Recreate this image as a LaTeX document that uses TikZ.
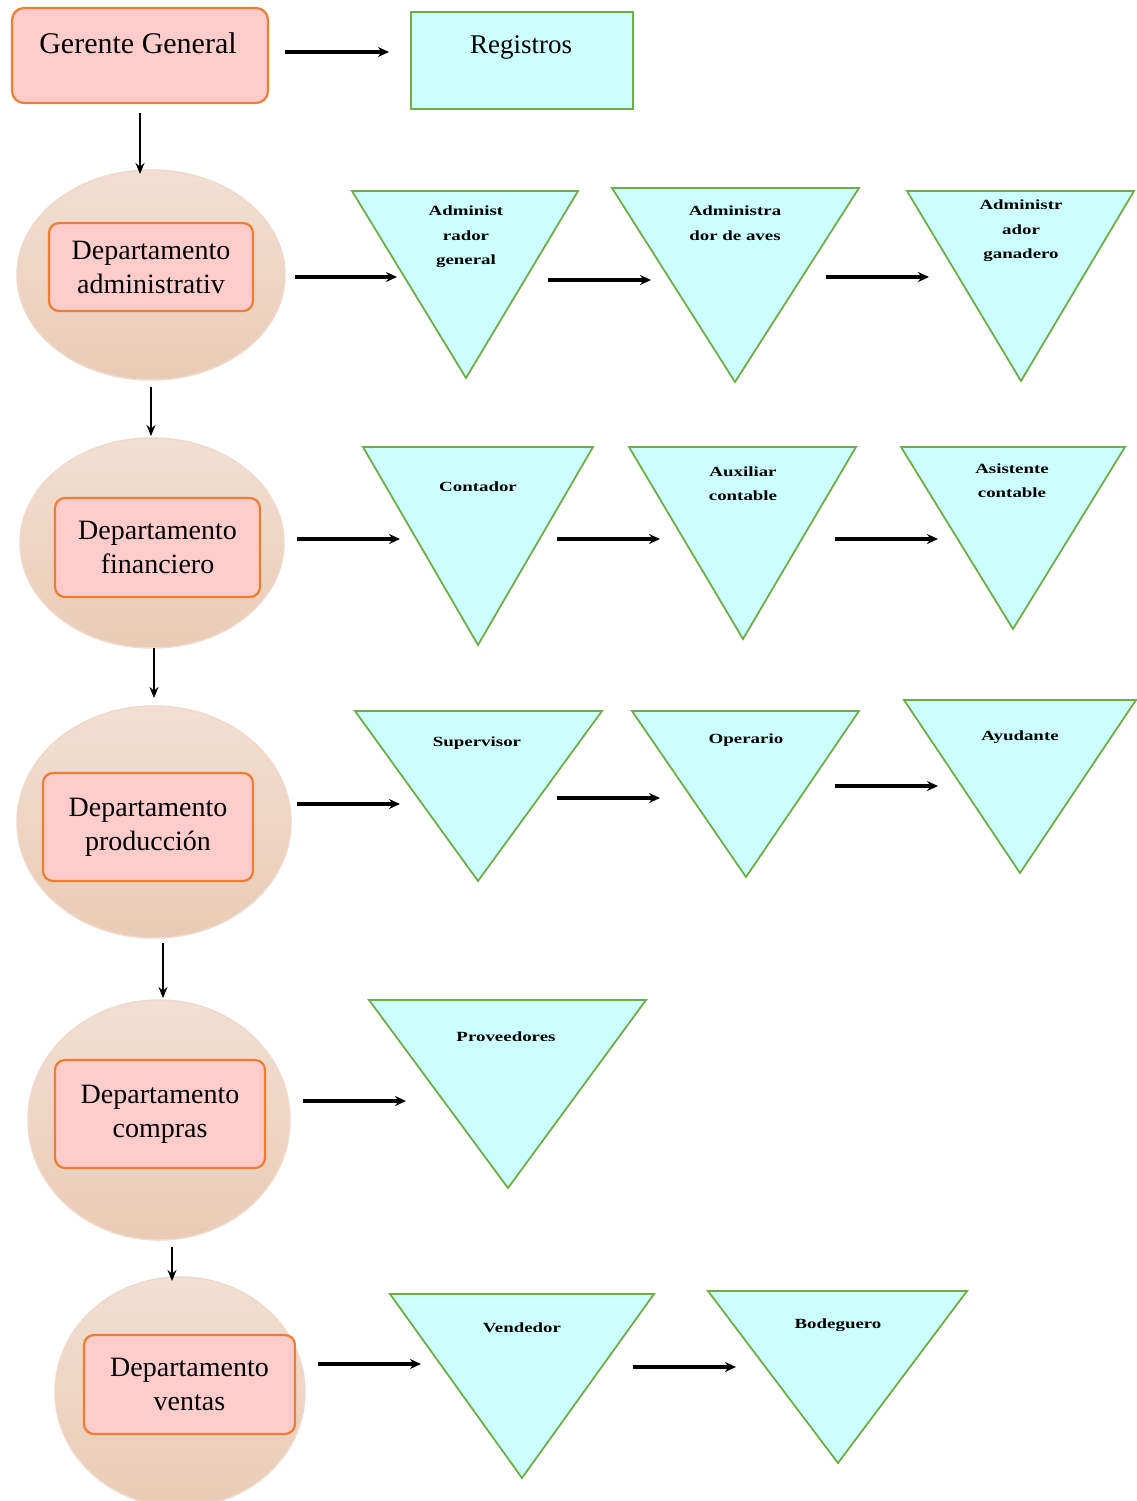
\documentclass[tikz,border=0pt]{standalone}
\usepackage{fontspec}
\setmainfont{Liberation Serif}
\usetikzlibrary{arrows.meta,shapes.geometric}
\definecolor{pinkfill}{HTML}{FFCCCC}
\definecolor{orangeline}{HTML}{ED7D31}
\definecolor{cyanfill}{HTML}{CCFFFF}
\definecolor{greenline}{HTML}{70AD47}
\definecolor{peachtop}{HTML}{F2DFD3}
\definecolor{peachbot}{HTML}{EACBB5}
\definecolor{peachline}{HTML}{EFD9CB}
\tikzset{
  gerbox/.style={draw=orangeline,line width=2.2pt,fill=pinkfill,rounded corners=12pt,inner sep=0pt},
  depbox/.style={draw=orangeline,line width=2.2pt,fill=pinkfill,rounded corners=10pt,inner sep=0pt},
  regbox/.style={draw=greenline,line width=2.2pt,fill=cyanfill,inner sep=0pt},
  deporb/.style={ellipse,draw=peachline,line width=1.5pt,top color=peachtop,bottom color=peachbot,inner sep=0pt},
  tri/.style={draw=greenline,line width=1.8pt,fill=cyanfill,line join=miter},
  bigtxt/.style={font=\fontsize{28}{34}\selectfont,align=center,inner sep=0pt},
  smalltxt/.style={font=\fontsize{14}{24.5}\selectfont\bfseries,align=center,inner sep=0pt,xscale=1.35},
  arr/.style={-{Stealth[length=11pt,width=10pt]},line width=3.2pt,black},
  varr/.style={-{Stealth[length=11pt,width=9pt]},line width=2.6pt,black}
}
\begin{document}
\begin{tikzpicture}[x=1pt,y=-1pt]
\useasboundingbox (0,0) rectangle (1137,1501);
% top row
\node[gerbox,minimum width=256pt,minimum height=95pt] (ger) at (140,55.5) {};
\node[bigtxt,font=\fontsize{30}{34}\selectfont] (gert) at (138,43) {Gerente General};
\node[regbox,minimum width=222pt,minimum height=97pt] (reg) at (522,60.5) {};
\node[bigtxt,font=\fontsize{27}{34}\selectfont] (regt) at (521,47) {Registros};
\coordinate (gerR) at (285,52); \coordinate (regL) at (389,52);
\draw[arr] (gerR) -- (regL);
% departments
\node[deporb,minimum width=268pt,minimum height=210pt] (e1) at (151,275) {};
\node[depbox,minimum width=204pt,minimum height=88pt] (d1) at (151,267) {};
\node[bigtxt] at (d1) {Departamento\\administrativ};
\node[deporb,minimum width=264pt,minimum height=210pt] (e2) at (152,543) {};
\node[depbox,minimum width=205pt,minimum height=99pt] (d2) at (157.5,547.5) {};
\node[bigtxt] at (d2) {Departamento\\financiero};
\node[deporb,minimum width=274pt,minimum height=232pt] (e3) at (154,822) {};
\node[depbox,minimum width=210pt,minimum height=108pt] (d3) at (148,827) {};
\node[bigtxt] at (d3) {Departamento\\producción};
\node[deporb,minimum width=262pt,minimum height=240pt] (e4) at (159,1120) {};
\node[depbox,minimum width=210pt,minimum height=108pt] (d4) at (160,1114) {};
\node[bigtxt] at (d4) {Departamento\\compras};
\node[deporb,minimum width=250pt,minimum height=230pt] (e5) at (180,1392) {};
\node[depbox,minimum width=211pt,minimum height=99pt] (d5) at (189.5,1384.5) {};
\node[bigtxt] at (d5) {Departamento\\ventas};
% vertical arrows
\coordinate (v0a) at (140,113); \coordinate (v0b) at (140,174);
\coordinate (v1a) at (151,387); \coordinate (v1b) at (151,436);
\coordinate (v2a) at (154,648); \coordinate (v2b) at (154,698);
\coordinate (v3a) at (163,943); \coordinate (v3b) at (163,998);
\coordinate (v4a) at (172,1247); \coordinate (v4b) at (172,1281);
\draw[varr] (v0a) -- (v0b);
\draw[varr] (v1a) -- (v1b);
\draw[varr] (v2a) -- (v2b);
\draw[varr] (v3a) -- (v3b);
\draw[varr] (v4a) -- (v4b);
% row 1 triangles
\draw[tri] (352,191) -- (578,191) -- (466,378) -- cycle;
\node[smalltxt] (t11) at (466,237) {Administ\\rador\\general};
\draw[tri] (612,188) -- (859,188) -- (735,382) -- cycle;
\node[smalltxt] (t12) at (735,223) {Administra\\dor de aves};
\draw[tri] (907,191) -- (1134,191) -- (1021,381) -- cycle;
\node[smalltxt] (t13) at (1021,231) {Administr\\ador\\ganadero};
\coordinate (a11) at (295,277); \coordinate (b11) at (397,277);
\coordinate (a12) at (548,280); \coordinate (b12) at (651,280);
\coordinate (a13) at (826,277); \coordinate (b13) at (929,277);
\draw[arr] (a11) -- (b11);
\draw[arr] (a12) -- (b12);
\draw[arr] (a13) -- (b13);
% row 2
\draw[tri] (363,447) -- (593,447) -- (478,645) -- cycle;
\node[smalltxt] (t21) at (478,487) {Contador};
\draw[tri] (629,447) -- (856,447) -- (743,639) -- cycle;
\node[smalltxt] (t22) at (743,483.5) {Auxiliar\\contable};
\draw[tri] (901,447) -- (1125,447) -- (1013,629) -- cycle;
\node[smalltxt] (t23) at (1012,480.5) {Asistente\\contable};
\coordinate (a21) at (297,539); \coordinate (b21) at (400,539);
\coordinate (a22) at (557,539); \coordinate (b22) at (660,539);
\coordinate (a23) at (835,539); \coordinate (b23) at (938,539);
\draw[arr] (a21) -- (b21);
\draw[arr] (a22) -- (b22);
\draw[arr] (a23) -- (b23);
% row 3
\draw[tri] (355,711) -- (602,711) -- (478,881) -- cycle;
\node[smalltxt] (t31) at (477,743) {Supervisor};
\draw[tri] (632,711) -- (859,711) -- (746,877) -- cycle;
\node[smalltxt] (t32) at (746,740) {Operario};
\draw[tri] (904,700) -- (1136,700) -- (1020,873) -- cycle;
\node[smalltxt] (t33) at (1020,737) {Ayudante};
\coordinate (a31) at (297,804); \coordinate (b31) at (400,804);
\coordinate (a32) at (557,798); \coordinate (b32) at (660,798);
\coordinate (a33) at (835,786); \coordinate (b33) at (938,786);
\draw[arr] (a31) -- (b31);
\draw[arr] (a32) -- (b32);
\draw[arr] (a33) -- (b33);
% row 4
\draw[tri] (369,1000) -- (646,1000) -- (508,1188) -- cycle;
\node[smalltxt] (t41) at (506,1037) {Proveedores};
\coordinate (a41) at (303,1101); \coordinate (b41) at (406,1101);
\draw[arr] (a41) -- (b41);
% row 5
\draw[tri] (390,1294) -- (654,1294) -- (522,1478) -- cycle;
\node[smalltxt] (t51) at (522,1328) {Vendedor};
\draw[tri] (708,1291) -- (967,1291) -- (838,1463) -- cycle;
\node[smalltxt] (t52) at (838,1325) {Bodeguero};
\coordinate (a51) at (318,1364); \coordinate (b51) at (421,1364);
\coordinate (a52) at (633,1367); \coordinate (b52) at (736,1367);
\draw[arr] (a51) -- (b51);
\draw[arr] (a52) -- (b52);
\end{tikzpicture}
\end{document}
